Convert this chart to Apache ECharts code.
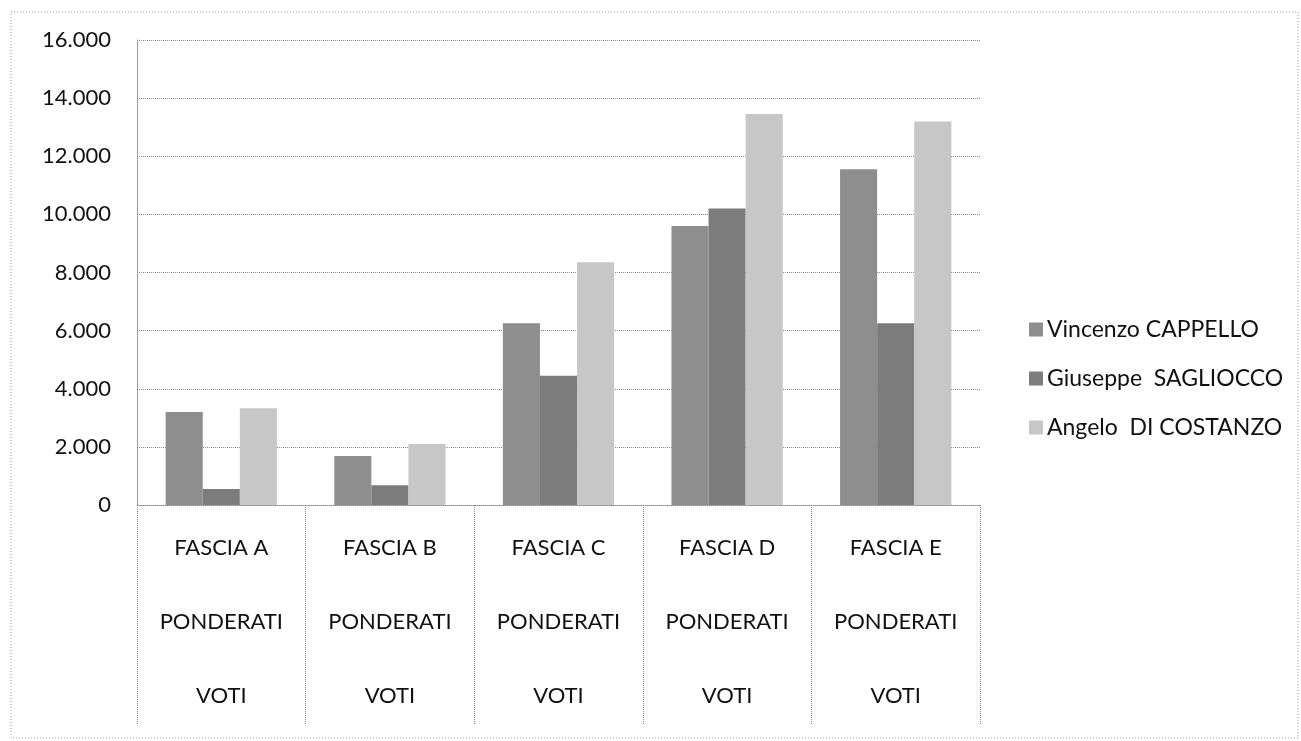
<!DOCTYPE html>
<html>
<head>
<meta charset="utf-8">
<script src="https://cdn.jsdelivr.net/npm/echarts@6/dist/echarts.min.js"></script>
<style>
  html, body { margin: 0; padding: 0; background: #fff; }
  #chart { width: 1301px; height: 741px; }
</style>
</head>
<body>
<div id="chart"></div>
<script>
// categorie (tre righe per etichetta)
const fasce = ['FASCIA A', 'FASCIA B', 'FASCIA C', 'FASCIA D', 'FASCIA E']
const rigaDue = 'PONDERATI'
const rigaTre = 'VOTI'

// voti ponderati per candidato
const cappello = [3200, 1690, 6250, 9600, 11550]
const sagliocco = [550, 680, 4450, 10200, 6250]
const diCostanzo = [3330, 2100, 8350, 13450, 13200]

const nomi = ['Vincenzo CAPPELLO', 'Giuseppe  SAGLIOCCO', 'Angelo  DI COSTANZO']

const chart = echarts.init(document.getElementById('chart'))

const fontFamily = 'Lato, "Open Sans", sans-serif'
const dotted = { color: '#8a8a8a', type: 'dotted', width: 1 }

chart.setOption({
  animation: false,
  color: ['#8e8e8e', '#7c7c7c', '#c7c7c7'],
  graphic: [{
    type: 'rect',
    shape: { x: 11, y: 12, width: 1287, height: 726 },
    style: { fill: 'none', stroke: '#9a9a9a', lineWidth: 1, lineDash: [1, 2] },
    silent: true
  }],
  legend: {
    orient: 'vertical',
    left: 1024,
    top: 313,
    itemWidth: 14,
    itemHeight: 14,
    itemGap: 26,
    icon: 'rect',
    textStyle: { fontFamily, fontSize: 23, color: '#111', padding: [0, 0, 0, -1] },
    data: nomi
  },
  grid: {
    left: 137,
    right: 321,
    top: 40,
    bottom: 236,
    containLabel: false
  },
  xAxis: {
    type: 'category',
    data: fasce,
    axisLine: { show: true, lineStyle: dotted },
    axisTick: { show: true, length: 220, lineStyle: dotted },
    axisLabel: {
      margin: 6,
      fontFamily,
      fontSize: 22,
      color: '#111',
      lineHeight: 74,
      formatter: v => v + '\n' + rigaDue + '\n' + rigaTre
    }
  },
  yAxis: {
    type: 'value',
    min: 0,
    max: 16000,
    interval: 2000,
    axisLine: { show: true, lineStyle: dotted },
    axisTick: { show: false },
    splitLine: { show: true, lineStyle: dotted },
    axisLabel: {
      margin: 26,
      fontFamily,
      fontSize: 22,
      color: '#111',
      formatter: v => v === 0 ? '0' : String(v).replace(/\B(?=(\d{3})+(?!\d))/g, '.')
    }
  },
  series: [
    { name: nomi[0], type: 'bar', data: cappello, barGap: '0%', barCategoryGap: '34%' },
    { name: nomi[1], type: 'bar', data: sagliocco, barGap: '0%', barCategoryGap: '34%' },
    { name: nomi[2], type: 'bar', data: diCostanzo, barGap: '0%', barCategoryGap: '34%' }
  ]
})
</script>
</body>
</html>
